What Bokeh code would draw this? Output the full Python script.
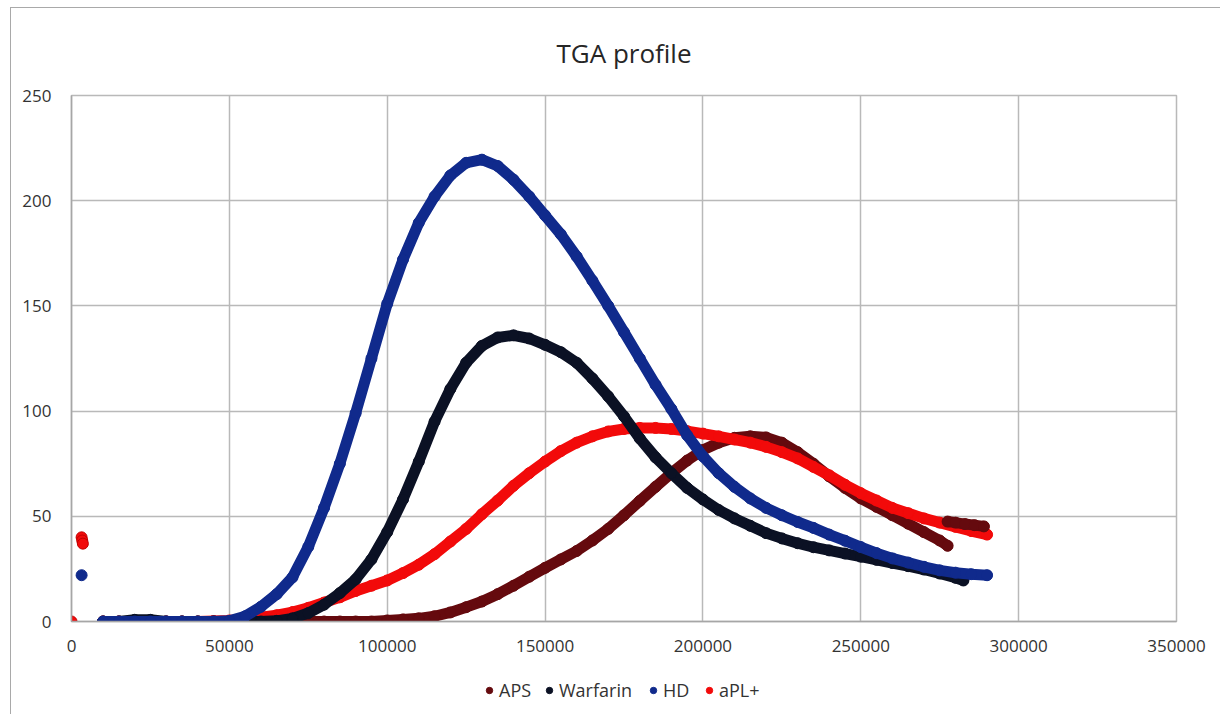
from bokeh.plotting import figure
from bokeh.layouts import column
from bokeh.models import (FixedTicker, NumeralTickFormatter, Legend, LegendItem)
from bokeh.embed import file_html
from bokeh.resources import INLINE

# Thrombin generation (TGA) curves: time on x, thrombin on y
x_hd = list(range(10000, 290001, 5000))
y_hd = [0, 0, 0, 0, 0, 0, 0, 0, 0.3, 2.5, 7, 13, 21, 35.5, 54, 75, 99, 125,
        151, 172, 189.5, 202, 212, 218, 219.5, 216.5, 210, 202, 193, 184,
        173.5, 162, 150, 137.5, 125, 112.5, 101, 88.5, 78.5, 70.5, 64, 58.5,
        54, 50.5, 47.3, 44.5, 41.3, 38.4, 35.4, 32.5, 30, 28, 26, 24.3, 23.2,
        22.5, 22]

x_warfarin = list(range(10000, 280001, 5000)) + [282500]
y_warfarin = [0, 0, 0.8, 0.8, 0, 0, 0, 0, 0, 0, 0, 0.3, 1.5, 4, 8, 13.5, 20,
              29.5, 42.5, 58, 76, 95, 110.5, 123, 131, 135, 136, 134.5, 131.5,
              128, 123, 115.5, 107, 97.5, 87, 78, 70.5, 63.5, 58, 53, 49, 45.5,
              42, 39.5, 37.2, 35.3, 33.8, 32.3, 30.8, 29.3, 27.8, 26.3, 24.7,
              22.8, 20.8, 19.5]

x_apl = list(range(10000, 290001, 5000))
y_apl = [0, 0, 0, 0, 0, 0, 0, 0.2, 0.5, 1, 2, 3, 4.5, 6.5, 9, 11.5, 14.5, 17,
         19.5, 23, 27, 32, 38, 44, 51, 57.5, 64.5, 70.5, 76, 81, 85, 88, 90.3,
         91.5, 92, 92, 91.5, 90.5, 89.3, 88, 86.5, 85, 83, 80.5, 77.5, 73.5,
         69.5, 65, 61, 57.5, 54, 51.5, 49, 47, 45, 43, 41.3]

x_aps = list(range(10000, 275001, 5000)) + [277500]
y_aps = [0] * 18 + [0.5, 1, 1.5, 2.5, 4.3, 6.8, 9.5, 13, 17, 21.3, 25.5, 29.5,
                    33.5, 38.5, 44, 50.5, 57.3, 64, 70.5, 76.5, 81.5, 85, 87.3,
                    88, 87.5, 85, 80.5, 75, 69, 63.5, 58.5, 54.5, 50.5, 46.5,
                    42.5, 38.5, 36]
# second APS run, recorded only at the end of the window
x_aps_tail = [277500, 280000, 283000, 286000, 289000]
y_aps_tail = [47.5, 47, 46.3, 45.8, 45.2]

# isolated readings at the very start
x_apl_start = [0, 3200, 3400, 3600]
y_apl_start = [0, 40, 38.5, 37]
x_hd_start = [3200]
y_hd_start = [22]

x_ticks = [0, 50000, 100000, 150000, 200000, 250000, 300000, 350000]
y_ticks = [0, 50, 100, 150, 200, 250]

series_names = ["APS", "Warfarin", "HD", "aPL+"]

C_APS = "#650a0e"
C_WARF = "#0b1124"
C_HD = "#102a8c"
C_APL = "#f20a0a"
series_colors = [C_APS, C_WARF, C_HD, C_APL]
GRID = "#b9b9b9"
FONT = "Open Sans"

p = figure(frame_width=1105, frame_height=526,
           min_border_left=60, min_border_right=45,
           min_border_top=84, min_border_bottom=40,
           x_range=(0, 350000), y_range=(0, 250),
           output_backend="svg", toolbar_location=None,
           background_fill_color="white", border_fill_color="white")

p.title.text = "TGA profile"
p.title.text_font = FONT
p.title.text_font_size = "26px"
p.title.text_font_style = "normal"
p.title.text_color = "#262626"
p.title.align = "center"
p.title.text_line_height = 0.8
p.title.standoff = 49

p.outline_line_color = GRID
p.outline_line_width = 1.5

for ax in (p.xaxis, p.yaxis):
    ax.axis_line_color = "#a6a6a6"
    ax.axis_line_width = 1.5
    ax.major_tick_line_color = None
    ax.minor_tick_line_color = None
    ax.major_label_text_font = FONT
    ax.major_label_text_font_size = "17px"
    ax.major_label_text_color = "#333333"
p.xaxis.ticker = FixedTicker(ticks=x_ticks)
p.yaxis.ticker = FixedTicker(ticks=y_ticks)
p.xaxis.formatter = NumeralTickFormatter(format="0")
p.yaxis.formatter = NumeralTickFormatter(format="0")
p.xaxis.major_label_standoff = 12
p.yaxis.major_label_standoff = 14

p.xgrid.grid_line_color = GRID
p.ygrid.grid_line_color = GRID
p.xgrid.grid_line_width = 1.5
p.ygrid.grid_line_width = 1.5


def curve(xs, ys, color):
    p.line(xs, ys, line_color=color, line_width=11,
           line_join="round", line_cap="round")
    p.scatter(xs, ys, size=11, fill_color=color, line_color=color)


curve(x_aps, y_aps, C_APS)
curve(x_apl, y_apl, C_APL)
curve(x_aps_tail, y_aps_tail, C_APS)
curve(x_warfarin, y_warfarin, C_WARF)
curve(x_hd, y_hd, C_HD)

p.scatter(x_apl_start, y_apl_start, size=11, fill_color=C_APL, line_color="#c00000")
p.scatter(x_hd_start, y_hd_start, size=11, fill_color=C_HD, line_color=C_HD)

# key strip under the chart: one marker swatch per series
key = figure(width=1210, height=53, min_border=0,
             x_range=(0, 1), y_range=(0, 1),
             x_axis_location=None, y_axis_location=None,
             output_backend="svg", toolbar_location=None,
             background_fill_color="white", border_fill_color="white")
key.grid.visible = False
key.outline_line_color = None
key_x = [410, 470, 574, 630]
for name, color, kx in zip(series_names, series_colors, key_x):
    # swatch source point sits outside the strip's visible range
    r = key.scatter([-5], [-5], size=16, fill_color=color, line_color=color)
    lg = Legend(items=[LegendItem(label=name, renderers=[r])],
                location=(kx, 12))
    lg.label_text_font = FONT
    lg.label_text_font_size = "18px"
    lg.label_text_color = "#333333"
    lg.border_line_color = None
    lg.background_fill_alpha = 0
    lg.glyph_width = 16
    lg.glyph_height = 16
    lg.label_standoff = 2
    lg.margin = 0
    lg.padding = 0
    key.add_layout(lg, "center")

page = column(p, key, spacing=0)
page.margin = (7, 0, 0, 10)
page.styles = {"border-top": "1.5px solid #a9a9a9",
               "border-left": "1.5px solid #a9a9a9"}

open("out.html", "w").write(file_html(page, INLINE))
